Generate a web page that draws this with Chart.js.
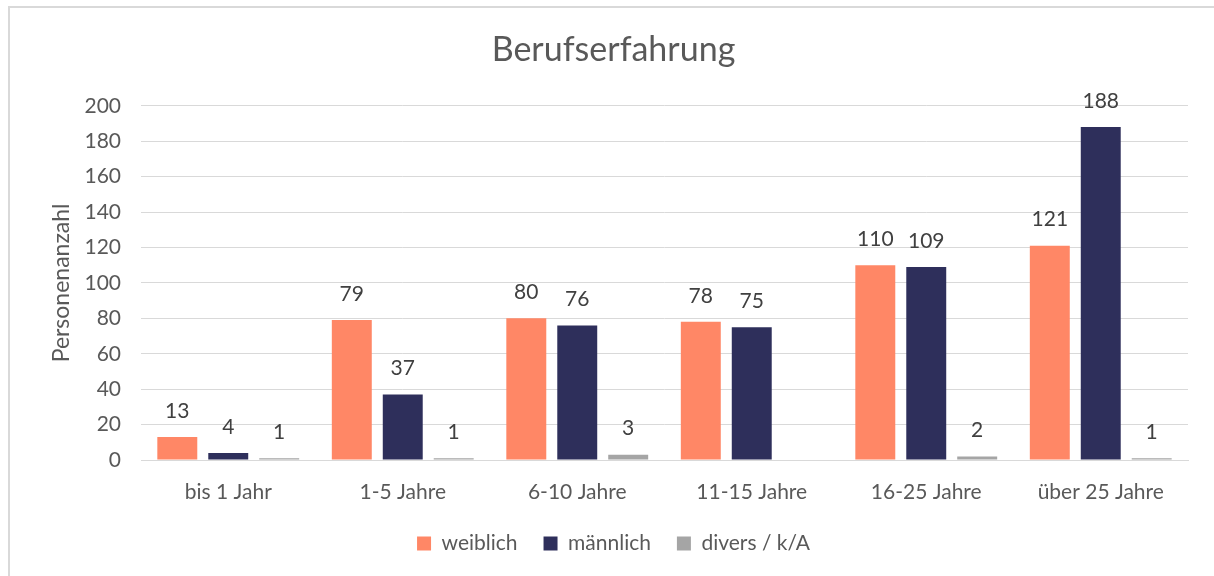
<!DOCTYPE html>
<html>
<head>
<meta charset="utf-8">
<script src="https://cdn.jsdelivr.net/npm/chart.js@4.4.1/dist/chart.umd.min.js"></script>
<style>
  html, body { margin: 0; padding: 0; background: #fff; overflow: hidden; }
  canvas { display: block; }
</style>
</head>
<body>
<canvas id="myChart" width="1214" height="576"></canvas>
<script>
// Data
const categories = ['bis 1 Jahr', '1-5 Jahre', '6-10 Jahre', '11-15 Jahre', '16-25 Jahre', 'über 25 Jahre'];
const weiblich = [13, 79, 80, 78, 110, 121];
const maennlich = [4, 37, 76, 75, 109, 188];
const divers = [1, 1, 3, null, 2, 1];
const yTicks = [0, 20, 40, 60, 80, 100, 120, 140, 160, 180, 200];

const fontFamily = 'Lato, "Open Sans", sans-serif';
const textColor = '#595959';
const gridColor = '#D9D9D9';

// Value labels above bars (no datalabels plugin available offline)
const valueLabels = {
    id: 'valueLabels',
    afterDatasetsDraw(chart) {
        const ctx = chart.ctx;
        ctx.save();
        ctx.font = '21px ' + fontFamily;
        ctx.fillStyle = '#404040';
        ctx.textAlign = 'center';
        ctx.textBaseline = 'middle';
        chart.data.datasets.forEach((ds, i) => {
            const meta = chart.getDatasetMeta(i);
            meta.data.forEach((bar, j) => {
                const v = ds.data[j];
                if (v === null || v === undefined) return;
                ctx.fillText(String(v), bar.x, bar.y - 26);
            });
        });
        ctx.restore();
    }
};

// Light frame on the top and left edge, like the exported chart
const frame = {
    id: 'frame',
    beforeDraw(chart) {
        const ctx = chart.ctx;
        ctx.save();
        ctx.fillStyle = '#fff';
        ctx.fillRect(0, 0, chart.width, chart.height);
        ctx.fillStyle = gridColor;
        ctx.fillRect(8, 6, chart.width - 8, 2);
        ctx.fillRect(8, 6, 2, chart.height - 6);
        ctx.restore();
    }
};

const ctx = document.getElementById('myChart').getContext('2d');
const chart = new Chart(ctx, {
    type: 'bar',
    data: {
        labels: categories,
        datasets: [
            { label: 'weiblich', data: weiblich, backgroundColor: '#FF8766' },
            { label: 'männlich', data: maennlich, backgroundColor: '#2E2F5B' },
            { label: 'divers / k/A', data: divers, backgroundColor: '#A5A5A5' }
        ]
    },
    options: {
        responsive: false,
        animation: false,
        datasets: {
            bar: {
                categoryPercentage: 0.876,
                barPercentage: 0.784
            }
        },
        layout: {
            padding: { left: 39, right: 26, top: 0, bottom: 12 }
        },
        plugins: {
            title: {
                display: true,
                text: 'Berufserfahrung',
                color: textColor,
                font: { family: fontFamily, size: 34, weight: 'normal', lineHeight: 1.2 },
                padding: { top: 30, bottom: 35 }
            },
            legend: {
                position: 'bottom',
                labels: {
                    color: textColor,
                    boxWidth: 14,
                    boxHeight: 14,
                    padding: 26,
                    font: { family: fontFamily, size: 21 }
                }
            },
            tooltip: { enabled: false }
        },
        scales: {
            x: {
                afterFit(scale) {
                    scale.height = 47;
                },
                grid: { display: false, drawTicks: false },
                border: { display: true, color: gridColor, width: 1 },
                ticks: {
                    color: textColor,
                    padding: 20,
                    font: { family: fontFamily, size: 21 }
                }
            },
            y: {
                min: 0,
                max: 200,
                afterBuildTicks(scale) {
                    scale.ticks = yTicks.map(v => ({ value: v }));
                },
                afterFit(scale) {
                    scale.width = 102;
                },
                grid: { color: gridColor, lineWidth: 1, drawTicks: false },
                border: { display: false },
                ticks: {
                    color: textColor,
                    padding: 20,
                    font: { family: fontFamily, size: 21 }
                },
                title: {
                    display: true,
                    text: 'Personenanzahl',
                    color: textColor,
                    font: { family: fontFamily, size: 23 },
                    padding: { top: 9 }
                }
            }
        }
    },
    plugins: [frame, valueLabels]
});
</script>
</body>
</html>
